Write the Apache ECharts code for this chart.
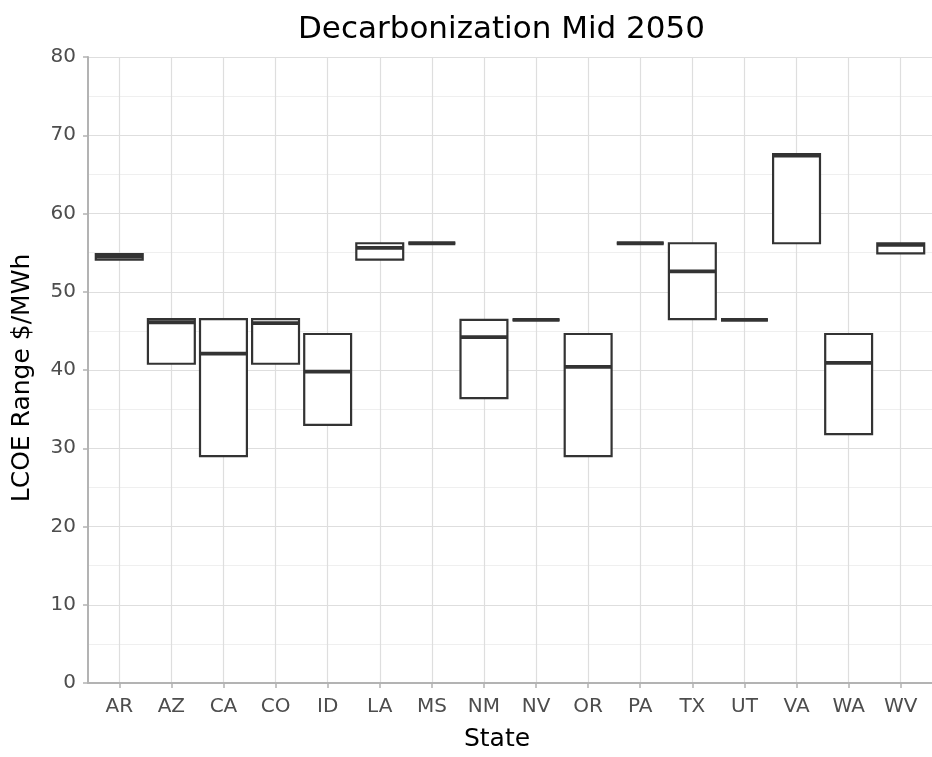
<!DOCTYPE html>
<html>
<head>
<meta charset="utf-8">
<script src="https://cdn.jsdelivr.net/npm/echarts@6/dist/echarts.min.js"></script>
<style>
  html, body { margin: 0; padding: 0; background: #fff; }
  #main { width: 932px; height: 757px; }
</style>
</head>
<body>
<div id="main"></div>
<script>
'use strict'
var states = ['AR', 'AZ', 'CA', 'CO', 'ID', 'LA', 'MS', 'NM', 'NV', 'OR', 'PA', 'TX', 'UT', 'VA', 'WA', 'WV'];
var lows = [54.1, 40.8, 29.0, 40.8, 33.0, 54.1, 56.2, 36.4, 46.4, 29.0, 56.2, 46.5, 46.4, 56.2, 31.8, 54.9];
var mids = [54.5, 46.1, 42.1, 46.0, 39.8, 55.6, 56.2, 44.2, 46.4, 40.4, 56.2, 52.6, 46.4, 67.4, 40.9, 56.0];
var highs = [54.8, 46.5, 46.5, 46.5, 44.6, 56.2, 56.2, 46.4, 46.4, 44.6, 56.2, 56.2, 46.4, 67.6, 44.6, 56.2];
var yTicks = [0, 10, 20, 30, 40, 50, 60, 70, 80];

var chart = echarts.init(document.getElementById('main'));

var font = 'DejaVu Sans';
var rows = states.map(function (s, i) {
    return [i, lows[i], mids[i], highs[i]];
});
var stateIdx = states.map(function (s, i) { return i; });

var option = {
    animation: false,
    backgroundColor: '#ffffff',
    title: {
        text: 'Decarbonization Mid 2050',
        left: 293,
        top: 9,
        textStyle: {
            fontFamily: font,
            fontSize: 31,
            fontWeight: 'normal',
            color: '#000000'
        }
    },
    grid: {
        left: 88,
        top: 57,
        width: 851,
        height: 634
    },
    xAxis: {
        type: 'value',
        min: -0.6,
        max: 15.6,
        name: 'State',
        nameLocation: 'middle',
        nameGap: 44,
        nameTextStyle: { fontFamily: font, fontSize: 25, color: '#000000', padding: [0, 26, 0, 0] },
        axisLine: { show: true, onZero: false, lineStyle: { color: '#b3b3b3', width: 2 } },
        axisTick: {
            show: true,
            length: 5,
            customValues: stateIdx,
            lineStyle: { color: '#b3b3b3', width: 1.5 }
        },
        axisLabel: {
            customValues: stateIdx,
            margin: 14,
            fontFamily: font,
            fontSize: 20,
            color: '#4d4d4d',
            formatter: function (v) { return states[Math.round(v)]; }
        },
        splitLine: { show: true, lineStyle: { color: '#dedede', width: 1.2 } },
        minorSplitLine: { show: false }
    },
    yAxis: {
        type: 'value',
        min: 0,
        max: 80,
        interval: 10,
        name: 'LCOE Range $/MWh',
        nameLocation: 'middle',
        nameGap: 53,
        nameTextStyle: { fontFamily: font, fontSize: 25, color: '#000000', padding: [0, 16, 0, 0] },
        axisLine: { show: true, onZero: false, lineStyle: { color: '#b3b3b3', width: 2 } },
        axisTick: { show: true, length: 5, lineStyle: { color: '#b3b3b3', width: 1.5 } },
        axisLabel: {
            margin: 12,
            fontFamily: font,
            fontSize: 20,
            color: '#4d4d4d',
            formatter: function (v) { return yTicks.indexOf(v) >= 0 ? String(v) : ''; }
        },
        splitLine: { show: true, lineStyle: { color: '#dedede', width: 1.2 } },
        minorTick: { show: false, splitNumber: 2 },
        minorSplitLine: { show: true, lineStyle: { color: '#efefef', width: 1 } }
    },
    series: [
        {
            type: 'custom',
            data: rows,
            encode: { x: 0, y: [1, 2, 3] },
            renderItem: function (params, api) {
                var i = api.value(0);
                var lo = api.coord([i, api.value(1)]);
                var md = api.coord([i, api.value(2)]);
                var hi = api.coord([i, api.value(3)]);
                var w = api.size([1, 0])[0] * 0.9;
                var x0 = lo[0] - w / 2;
                return {
                    type: 'group',
                    children: [
                        {
                            type: 'rect',
                            shape: { x: x0, y: hi[1], width: w, height: lo[1] - hi[1] },
                            style: { fill: '#ffffff', stroke: '#333333', lineWidth: 2.2 }
                        },
                        {
                            type: 'line',
                            shape: { x1: x0, y1: md[1], x2: x0 + w, y2: md[1] },
                            style: { stroke: '#333333', lineWidth: 3.8 }
                        }
                    ]
                };
            }
        }
    ]
};

chart.setOption(option);
</script>
</body>
</html>
